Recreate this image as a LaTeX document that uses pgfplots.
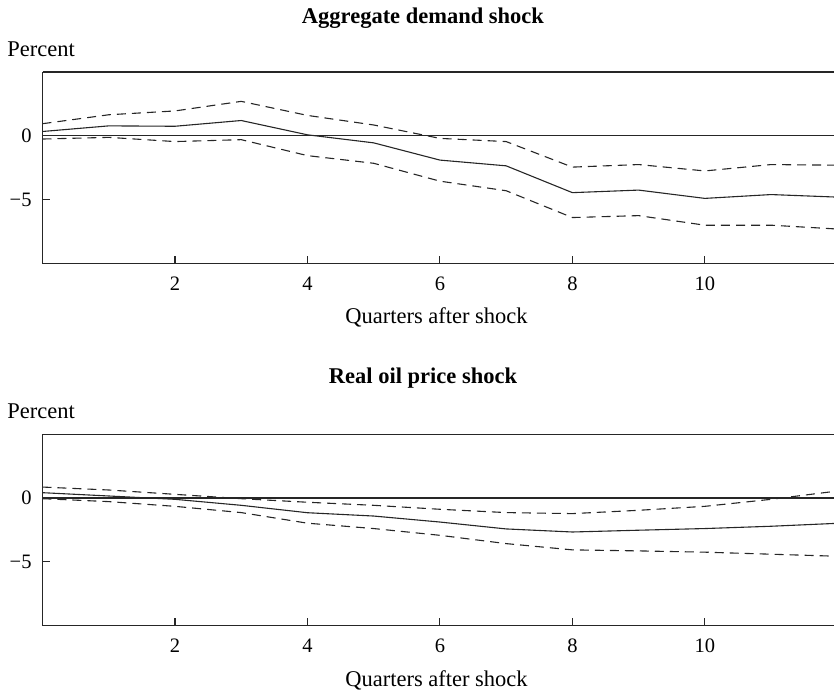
\documentclass[border=0pt]{standalone}
\usepackage{fontspec}
\setmainfont{Liberation Serif}
\usepackage{pgfplots}
\pgfplotsset{compat=1.18}
\begin{document}
\begin{tikzpicture}
\useasboundingbox (0pt,0pt) rectangle (834pt,-690pt);
\pgfplotsset{
  irf/.style={
    scale only axis, width=791.5pt, height=191.5pt,
    xmin=0, xmax=11.95, ymin=-10, ymax=5,
    axis x line*=box, axis y line*=left,
    xtick={2,4,6,8,10}, ytick={-5,0}, yticklabels={−5,0},
    xtick pos=bottom, ytick pos=left,
    tick align=inside, major tick length=7.5pt,
    axis line style={line width=1.1pt, black!85},
    every tick/.style={line width=1.1pt, black!85},
    tick label style={font=\fontsize{20.5}{24}\selectfont},
    xticklabel style={anchor=base, inner sep=0pt, yshift=-26.5pt},
    yticklabel style={anchor=east, inner sep=0pt, xshift=-10.8pt},
    /pgf/number format/assume math mode=true,
    label style={font=\fontsize{22.5}{27}\selectfont},
    xlabel={Quarters after shock},
    ylabel={Percent},
    ylabel style={rotate=-90, anchor=base west, inner sep=0pt},
    xlabel style={anchor=base, inner sep=0pt},
    title style={font=\fontsize{22.5}{27}\selectfont\bfseries, anchor=base, inner sep=0pt, yshift=-6pt},
    mid/.style={black!85, line width=1.1pt},
    band/.style={black!85, line width=1.1pt, dash pattern=on 9pt off 6pt},
    zero/.style={black!85, line width=1.1pt},
  }
}
\begin{axis}[irf, at={(42.5pt,-72pt)}, anchor=north west,
  title={Aggregate demand shock},
  title style={at={(axis description cs:0.4807,1.2513)}},
  ylabel style={at={(axis description cs:-0.0445,1.080)}},
  xlabel style={at={(axis description cs:0.4978,-0.3157)}}]
\addplot[zero] coordinates {(0,0) (12,0)};
\addplot[mid] coordinates {(0,0.34) (1,0.78) (2,0.75) (3,1.2) (4,0.08) (5,-0.55) (6,-1.9) (7,-2.35) (8,-4.45) (9,-4.25) (10,-4.9) (11,-4.6) (12,-4.8)};
\addplot[band] coordinates {(0,0.95) (1,1.65) (2,1.95) (3,2.7) (4,1.6) (5,0.85) (6,-0.2) (7,-0.45) (8,-2.45) (9,-2.25) (10,-2.75) (11,-2.25) (12,-2.3)};
\addplot[band] coordinates {(0,-0.25) (1,-0.12) (2,-0.45) (3,-0.3) (4,-1.55) (5,-2.15) (6,-3.55) (7,-4.3) (8,-6.4) (9,-6.25) (10,-7.0) (11,-7.0) (12,-7.3)};
\end{axis}
\begin{axis}[irf, at={(42.5pt,-434.2pt)}, anchor=north west,
  title={Real oil price shock},
  title style={at={(axis description cs:0.4807,1.2658)}},
  ylabel style={at={(axis description cs:-0.0445,1.083)}},
  xlabel style={at={(axis description cs:0.4978,-0.3185)}}]
\addplot[zero] coordinates {(0,0) (12,0)};
\addplot[mid] coordinates {(0,0.42) (1,0.16) (2,-0.1) (3,-0.57) (4,-1.15) (5,-1.41) (6,-1.88) (7,-2.42) (8,-2.66) (9,-2.52) (10,-2.39) (11,-2.21) (12,-1.98)};
\addplot[band] coordinates {(0,0.86) (1,0.63) (2,0.29) (3,-0.05) (4,-0.33) (5,-0.57) (6,-0.88) (7,-1.14) (8,-1.22) (9,-0.96) (10,-0.65) (11,-0.1) (12,0.55)};
\addplot[band] coordinates {(0,-0.05) (1,-0.28) (2,-0.65) (3,-1.14) (4,-1.97) (5,-2.39) (6,-2.92) (7,-3.57) (8,-4.06) (9,-4.14) (10,-4.24) (11,-4.4) (12,-4.56)};
\end{axis}
\end{tikzpicture}
\end{document}
